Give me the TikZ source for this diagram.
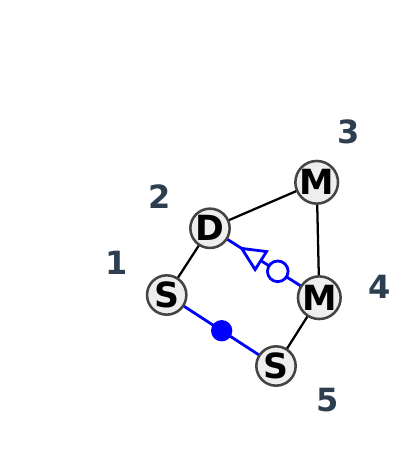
\documentclass[tikz,border=0pt]{standalone}
\usepackage{fontspec}
\setmainfont{DejaVu Sans}
\usetikzlibrary{calc}
\definecolor{nodeborder}{HTML}{444444}
\definecolor{nodefill}{HTML}{EEEEEE}
\definecolor{labelcol}{HTML}{2C3E50}
\definecolor{edgeblue}{HTML}{0000FF}
\tikzset{
  vtx/.style={circle, draw=nodeborder, fill=nodefill, line width=1.9pt, minimum size=29.5pt, inner sep=0pt, font=\bfseries\fontsize{26}{26}\selectfont},
  idlabel/.style={text=labelcol, font=\bfseries\fontsize{24}{24}\selectfont},
  plainedge/.style={draw=black, line width=1.7pt},
  blueedge/.style={draw=edgeblue, line width=2.1pt},
  openmark/.style={draw=edgeblue, fill=white, line width=2.1pt},
}
\begin{document}
\begin{tikzpicture}[x=0.75pt, y=-0.75pt]
\useasboundingbox (0,0) rectangle (400,463);
% edges first (under nodes)
\coordinate (p1) at (166.7,295);
\coordinate (p2) at (210,228.3);
\coordinate (p3) at (316.7,182.3);
\coordinate (p4) at (319.3,297.7);
\coordinate (p5) at (276,366);
\draw[plainedge] (p1) -- (p2);
\draw[plainedge] (p2) -- (p3);
\draw[plainedge] (p3) -- (p4);
\draw[plainedge] (p4) -- (p5);
\draw[blueedge] (p1) -- (p5);
\draw[blueedge] (p4) -- (p2);
% nodes
\node[vtx] (n1) at (p1) {S};
\node[vtx] (n2) at (p2) {D};
\node[vtx] (n3) at (p3) {M};
\node[vtx] (n4) at (p4) {M};
\node[vtx] (n5) at (p5) {S};
% markers
\coordinate (tt) at ($(p2)!0.29!(p4)$);
\coordinate (tb) at ($(p2)!0.465!(p4)$);
\draw[openmark, line join=miter] (tt) -- ($(tb)!8pt!90:(tt)$) -- ($(tb)!8pt!-90:(tt)$) -- cycle;
\node[openmark, circle, minimum size=15.5pt, inner sep=0pt] (oc) at ($(p2)!0.62!(p4)$) {};
\node[circle, fill=edgeblue, minimum size=16pt, inner sep=0pt] (fc) at ($(p1)!0.503!(p5)$) {};
% id labels
\node[idlabel] (l1) at (116.7,263.3) {1};
\node[idlabel] (l2) at (159.3,196.7) {2};
\node[idlabel] (l3) at (348.3,131.7) {3};
\node[idlabel] (l4) at (379.3,286.7) {4};
\node[idlabel] (l5) at (327.7,400) {5};
\end{tikzpicture}
\end{document}
